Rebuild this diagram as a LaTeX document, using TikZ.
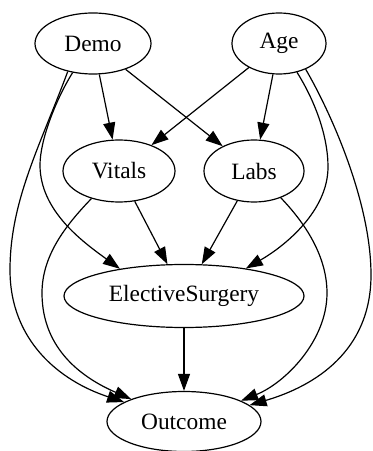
\documentclass[tikz,border=0pt]{standalone}
\usepackage{fontspec}
\setmainfont{Liberation Serif}
\usetikzlibrary{shapes.geometric,arrows.meta}
\begin{document}
\begin{tikzpicture}[x=1pt,y=1pt,
  nd/.style={draw, ellipse, line width=1.2pt, inner sep=0pt, minimum height=61pt, font=\fontsize{23.4}{28}\selectfont},
  arr/.style={line width=1.2pt, -{Triangle[length=17pt,width=12pt]}}]
\useasboundingbox (0,0) rectangle (373,451);
\node[nd, minimum width=116pt] (Demo) at (93,407.5) {Demo};
\node[nd, minimum width=94pt] (Age) at (279,407.5) {Age};
\node[nd, minimum width=112pt, minimum height=62pt] (Vitals) at (119,280) {Vitals};
\node[nd, minimum width=100pt, minimum height=62pt] (Labs) at (254,280) {Labs};
\node[nd, minimum width=240pt, minimum height=63pt] (ES) at (184,155) {ElectiveSurgery};
\node[nd, minimum width=154pt, minimum height=60pt] (Outcome) at (184,29.5) {Outcome};
\draw[arr] (Demo) -- (Vitals);
\draw[arr] (Demo) -- (Labs);
\draw[arr] (Age) -- (Vitals);
\draw[arr] (Age) -- (Labs);
\draw[arr] (Vitals) -- (ES);
\draw[arr] (Labs) -- (ES);
\draw[arr] (ES) -- (Outcome);
\draw[arr] (Demo.228) .. controls (40,305) and (10,250) .. (10,181) .. controls (10,110) and (60,70) .. (Outcome.162);
\draw[arr] (Demo.235) .. controls (55,350) and (40,310) .. (40,286) .. controls (40,240) and (83,209) .. (ES.157);
\draw[arr] (Vitals.225) .. controls (65,225) and (42,195) .. (42,158) .. controls (42,100) and (85,72) .. (Outcome.157);
\draw[arr] (Age.-58) .. controls (315,350) and (328,315) .. (328,284) .. controls (328,240) and (285,205) .. (ES.24);
\draw[arr] (Age.-44) .. controls (330,340) and (371,250) .. (371,176) .. controls (371,100) and (315,65) .. (Outcome.14);
\draw[arr] (Labs.-45) .. controls (305,228) and (327,195) .. (327,158) .. controls (327,110) and (285,68) .. (Outcome.20);
\end{tikzpicture}
\end{document}
